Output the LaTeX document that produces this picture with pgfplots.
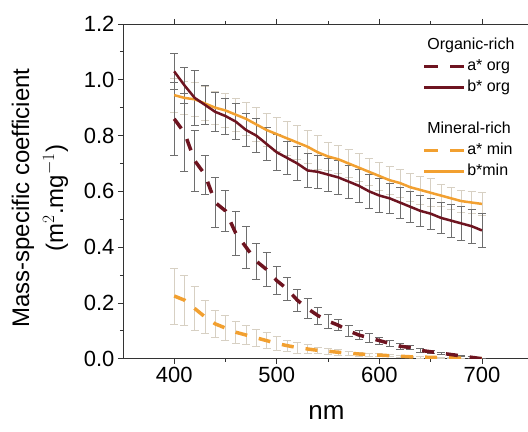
\documentclass[border=0pt]{standalone}
\usepackage{pgfplots}
\usepackage{pgfplotstable}
\usepackage{fontspec}
\setmainfont{Liberation Sans}
\pgfplotsset{compat=1.18}

\definecolor{orgred}{RGB}{110,20,32}
\definecolor{minorange}{RGB}{242,160,48}
\definecolor{barorg}{RGB}{110,110,110}
\definecolor{barmin}{RGB}{215,208,195}

% wavelength (nm), coefficient, standard deviation
\pgfplotstableread{
x y e
400 1.03 0.065
410 0.98 0.065
420 0.935 0.10
430 0.91 0.07
440 0.885 0.07
450 0.87 0.065
460 0.85 0.065
470 0.82 0.06
480 0.80 0.06
490 0.77 0.06
500 0.74 0.065
510 0.72 0.06
520 0.70 0.06
530 0.675 0.06
540 0.67 0.06
550 0.66 0.06
560 0.65 0.06
570 0.635 0.06
580 0.62 0.06
590 0.60 0.06
600 0.585 0.06
610 0.575 0.055
620 0.56 0.055
630 0.545 0.055
640 0.53 0.055
650 0.52 0.055
660 0.505 0.055
670 0.495 0.06
680 0.485 0.06
690 0.475 0.06
700 0.46 0.06
}\borg

\pgfplotstableread{
x y e
400 0.945 0.06
410 0.935 0.06
420 0.93 0.06
430 0.915 0.06
440 0.90 0.06
450 0.89 0.06
460 0.875 0.06
470 0.86 0.06
480 0.84 0.06
490 0.82 0.06
500 0.805 0.06
510 0.79 0.06
520 0.775 0.06
530 0.76 0.06
540 0.74 0.06
550 0.725 0.05
560 0.715 0.05
570 0.70 0.05
580 0.685 0.05
590 0.67 0.05
600 0.655 0.05
610 0.64 0.05
620 0.63 0.05
630 0.615 0.05
640 0.605 0.05
650 0.595 0.05
660 0.585 0.04
670 0.575 0.04
680 0.565 0.04
690 0.56 0.04
700 0.555 0.04
}\bmin

\pgfplotstableread{
x y e
400 0.86 0.13
410 0.81 0.14
420 0.71 0.11
430 0.66 0.07
440 0.56 0.09
450 0.53 0.075
460 0.45 0.08
470 0.40 0.075
480 0.35 0.065
490 0.32 0.06
500 0.28 0.05
510 0.25 0.04
520 0.21 0.04
530 0.18 0.035
540 0.155 0.03
550 0.135 0.025
560 0.12 0.02
570 0.10 0.02
580 0.085 0.015
590 0.075 0.015
600 0.065 0.012
610 0.055 0.01
620 0.045 0.01
630 0.04 0.008
640 0.03 0.006
650 0.025 0.005
660 0.02 0.004
670 0.015 0.003
680 0.01 0.002
690 0.005 0.002
700 0.0 0.002
}\aorg

\pgfplotstableread{
x y e
400 0.225 0.10
410 0.21 0.09
420 0.18 0.08
430 0.15 0.06
440 0.125 0.05
450 0.11 0.045
460 0.095 0.04
470 0.085 0.035
480 0.075 0.03
490 0.065 0.028
500 0.055 0.025
510 0.047 0.02
520 0.04 0.02
530 0.035 0.015
540 0.03 0.012
550 0.027 0.01
560 0.023 0.01
570 0.02 0.008
580 0.017 0.007
590 0.015 0.006
600 0.013 0.005
610 0.011 0.004
620 0.009 0.004
630 0.007 0.003
640 0.006 0.003
650 0.005 0.002
660 0.004 0.002
670 0.003 0.002
680 0.002 0.001
690 0.001 0.001
700 0.0 0.001
}\amin

\pgfplotsset{
  errplot/.style={forget plot, draw=none, mark=none,
    error bars/.cd, y dir=both, y explicit,
    error bar style={draw=#1, line width=0.7pt},
    error mark options={draw=#1, rotate=90, mark size=4pt, line width=0.7pt}},
  dashedline/.style={dash pattern=on 12pt off 12pt, line width=3.5pt},
  solidline/.style={line width=2.5pt},
}

\begin{document}
\begin{tikzpicture}
\begin{axis}[
  scale only axis,
  width=405pt, height=335pt,
  xmin=350, xmax=744.5,
  ymin=0, ymax=1.2,
  axis x line=box, axis y line=left,
  axis line style={-, line width=0.8pt, black!80},
  tick align=outside,
  major tick length=5pt, minor tick length=3pt,
  tick style={line width=0.8pt, black!80},
  xtick={400,500,600,700},
  minor x tick num=1,
  ytick={0,0.2,...,1.2},
  minor y tick num=1,
  yticklabel style={/pgf/number format/.cd, fixed, fixed zerofill, precision=1},
  /pgf/number format/assume math mode=true,
  ticklabel style={font=\fontsize{22}{26}\selectfont},
  xlabel={nm},
  xlabel style={font=\fontsize{26}{30}\selectfont, at={(axis description cs:0.503,-0.16)}, anchor=center},
  ylabel={Mass-specific coefficient\\(m$^{2}$.mg$^{-1}$)},
  ylabel style={font=\fontsize{24}{34}\selectfont, align=center, at={(axis description cs:-0.205,0.48)}, anchor=center},
  legend style={draw=none, fill=none, at={(1,1)}, anchor=north east,
    font=\fontsize{16}{18}\selectfont, xshift=-11pt, yshift=-11pt,
    row sep=0pt, inner sep=0pt,
    nodes={inner sep=2pt, text height=12.5pt, text depth=4.5pt}},
  legend cell align=left,
  legend image code/.code={\draw[#1] (0pt,0pt) -- (40pt,0pt);},
]
% error bars first so the curves sit on top
\addplot[errplot=barmin] table[x=x, y=y, y error=e] {\bmin};
\addplot[errplot=barmin] table[x=x, y=y, y error=e] {\amin};
\addplot[errplot=barorg] table[x=x, y=y, y error=e] {\borg};
\addplot[errplot=barorg] table[x=x, y=y, y error=e] {\aorg};

\addplot[forget plot, minorange, dashedline] table[x=x, y=y] {\amin};
\addplot[forget plot, orgred, dashedline] table[x=x, y=y] {\aorg};
\addplot[forget plot, minorange, solidline] table[x=x, y=y] {\bmin};
\addplot[forget plot, orgred, solidline] table[x=x, y=y] {\borg};

\addlegendimage{empty legend}
\addlegendentry{\hspace*{-40pt}Organic-rich}
\addlegendimage{orgred, dash pattern=on 14pt off 12pt, line width=2.5pt}
\addlegendentry{a* org}
\addlegendimage{orgred, solidline}
\addlegendentry{b* org}
\addlegendimage{empty legend}
\addlegendentry{}
\addlegendimage{empty legend}
\addlegendentry{\hspace*{-40pt}Mineral-rich}
\addlegendimage{minorange, dash pattern=on 14pt off 12pt, line width=2.5pt}
\addlegendentry{a* min}
\addlegendimage{minorange, solidline}
\addlegendentry{b*min}
\end{axis}
\useasboundingbox (-123pt,-73pt) rectangle (405pt,359pt);
\end{tikzpicture}
\end{document}
